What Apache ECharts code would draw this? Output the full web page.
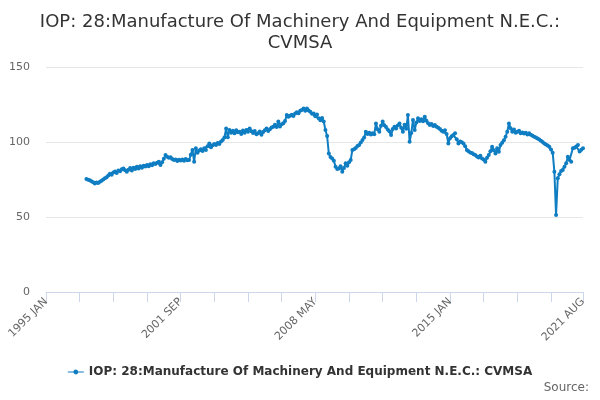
<!DOCTYPE html>
<html>
<head>
<meta charset="utf-8">
<script src="https://cdn.jsdelivr.net/npm/echarts@6/dist/echarts.min.js"></script>
<style>html,body{margin:0;padding:0;background:#fff}#c{width:600px;height:400px}</style>
</head>
<body>
<div id="c"></div>
<script>
var months = ['JAN','FEB','MAR','APR','MAY','JUN','JUL','AUG','SEP','OCT','NOV','DEC'];
var startYear = 1995, endYear = 2021, endMonth = 8;
var dataStartIndex = 24; // 1997 JAN
var values = [
  // 1997
  75.3, 74.8, 74.5, 73.8, 73.2, 72.4, 73.0, 72.6, 73.5, 74.2, 75.0, 75.8,
  // 1998
  76.5, 77.6, 78.9, 78.2, 79.6, 80.4, 79.3, 81.0, 80.5, 81.8, 82.4, 81.2,
  // 1999
  80.2, 81.5, 82.6, 81.0, 82.8, 82.0, 83.5, 82.4, 83.8, 82.9, 84.2, 83.6,
  // 2000
  84.7, 83.9, 85.2, 84.5, 85.9, 85.3, 86.2, 86.9, 84.7, 86.5, 88.8, 91.3,
  // 2001
  90.2, 89.5, 89.8, 88.6, 88.0, 88.4, 87.3, 88.1, 87.6, 88.3, 87.5, 88.6,
  // 2002
  87.9, 88.0, 91.5, 94.7, 86.9, 95.8, 92.9, 94.3, 95.1, 94.0, 95.8, 94.6,
  // 2003
  97.2, 99.0, 96.5, 97.8, 98.6, 98.0, 99.4, 98.7, 100.3, 101.3, 103.0, 109.0,
  // 2004
  103.2, 108.0, 106.2, 107.5, 105.9, 107.8, 106.5, 106.9, 105.4, 107.6, 106.1, 108.0,
  // 2005
  106.8, 109.0, 107.2, 106.0, 107.4, 105.1, 105.8, 107.0, 104.9, 106.6, 107.9, 109.0,
  // 2006
  107.3, 108.5, 109.6, 110.2, 111.5, 110.0, 113.6, 110.3, 111.8, 112.5, 114.0, 118.0,
  // 2007
  116.8, 117.5, 118.2, 117.3, 119.0, 119.8, 119.2, 120.8, 121.3, 122.4, 120.9, 122.4,
  // 2008
  121.0, 120.2, 118.8, 119.0, 117.2, 118.3, 115.8, 114.5, 116.0, 113.6, 108.0, 104.0,
  // 2009
  92.4, 90.0, 89.0, 87.5, 83.5, 82.0, 82.4, 83.8, 80.2, 82.6, 85.8, 84.1,
  // 2010
  86.5, 88.0, 94.7, 95.2, 96.0, 97.3, 98.0, 99.6, 101.3, 103.0, 106.9, 105.4,
  // 2011
  106.2, 105.0, 105.8, 105.2, 112.4, 108.5, 106.9, 110.8, 113.6, 111.2, 110.0, 108.3,
  // 2012
  107.2, 104.7, 108.6, 110.2, 109.0, 111.0, 112.4, 109.5, 106.9, 111.5, 108.8, 118.0,
  // 2013
  100.2, 106.0, 114.7, 108.0, 113.0, 115.8, 114.0, 115.2, 113.8, 116.9, 114.2, 112.5,
  // 2014
  111.3, 112.0, 110.6, 111.4, 110.2, 109.5, 108.6, 107.5, 106.9, 107.8, 105.4, 99.0,
  // 2015
  102.5, 103.8, 104.6, 105.8, 101.8, 99.0, 100.4, 99.8, 99.0, 97.2, 94.7, 93.8,
  // 2016
  93.0, 92.6, 91.9, 91.3, 90.4, 89.6, 90.8, 89.0, 88.4, 86.9, 89.5, 91.3,
  // 2017
  93.8, 96.9, 94.5, 92.4, 95.8, 93.5, 98.0, 99.5, 101.2, 103.5, 106.8, 112.4,
  // 2018
  109.2, 106.9, 108.4, 106.2, 106.9, 107.5, 105.8, 106.3, 105.6, 106.1, 105.0, 105.8,
  // 2019
  104.9, 104.2, 103.5, 103.0, 102.4, 101.6, 100.8, 100.0, 99.0, 98.4, 97.6, 96.9,
  // 2020
  95.0, 92.9, 80.2, 51.3, 75.8, 78.5, 80.7, 81.3, 83.5, 85.8, 90.2, 88.0,
  // 2021
  86.9, 95.8, 96.2, 97.0, 98.0, 93.6, 94.8, 95.8
];
var titleText = 'IOP: 28:Manufacture Of Machinery And Equipment N.E.C.:\nCVMSA';
var seriesName = 'IOP: 28:Manufacture Of Machinery And Equipment N.E.C.: CVMSA';

var categories = [];
for (var y = startYear; y <= endYear; y++) {
  for (var m = 0; m < 12; m++) {
    if (y === endYear && m >= endMonth) break;
    categories.push(y + ' ' + months[m]);
  }
}
var seriesData = categories.map(function (c, i) {
  var k = i - dataStartIndex;
  return (k >= 0 && k < values.length) ? values[k] : '-';
});
var lastIdx = categories.length - 1;

var chart = echarts.init(document.getElementById('c'));
chart.setOption({
  animation: false,
  title: {
    text: titleText,
    left: 'center',
    top: 7,
    textStyle: { fontFamily: 'DejaVu Sans', fontSize: 18, fontWeight: 'normal', color: '#333', lineHeight: 21 }
  },
  graphic: [{
    type: 'text', right: 11, top: 382,
    style: { text: 'Source:', fontFamily: 'DejaVu Sans', fontSize: 12, fill: '#666' }
  }],
  legend: {
    bottom: 17, left: 'center',
    itemWidth: 16, itemHeight: 8,
    icon: 'path://M0,3.4 L5.6,3.4 A2.5,2.5 0 0 1 10.4,3.4 L16,3.4 L16,4.6 L10.4,4.6 A2.5,2.5 0 0 1 5.6,4.6 L0,4.6 Z',
    textStyle: { fontFamily: 'DejaVu Sans', fontSize: 12, fontWeight: 'bold', color: '#333' },
    data: [seriesName]
  },
  grid: { left: 46, right: 17, top: 67, bottom: 108 },
  xAxis: {
    type: 'category',
    boundaryGap: false,
    data: categories,
    axisLine: { lineStyle: { color: '#ccd6eb' } },
    axisTick: {
      length: 10,
      lineStyle: { color: '#ccd6eb' },
      interval: function (i) { return i % 20 === 0 || i === lastIdx; }
    },
    axisLabel: {
      rotate: 45,
      color: '#666',
      fontFamily: 'DejaVu Sans',
      fontSize: 11,
      margin: 8,
      interval: function (i) { return i % 80 === 0 || i === lastIdx; }
    },
    splitLine: { show: false }
  },
  yAxis: {
    type: 'value',
    min: 0, max: 150, interval: 50,
    axisLine: { show: false },
    axisTick: { show: false },
    axisLabel: { color: '#666', fontFamily: 'DejaVu Sans', fontSize: 11, margin: 16 },
    splitLine: { lineStyle: { color: '#e6e6e6' } }
  },
  series: [{
    name: seriesName,
    type: 'line',
    data: seriesData,
    color: '#0f7dc2',
    lineStyle: { width: 2, color: '#0f7dc2' },
    symbol: 'circle',
    symbolSize: 4,
    showSymbol: true,
    showAllSymbol: true,
    itemStyle: { color: '#0f7dc2' },
    connectNulls: false
  }]
});
</script>
</body>
</html>
